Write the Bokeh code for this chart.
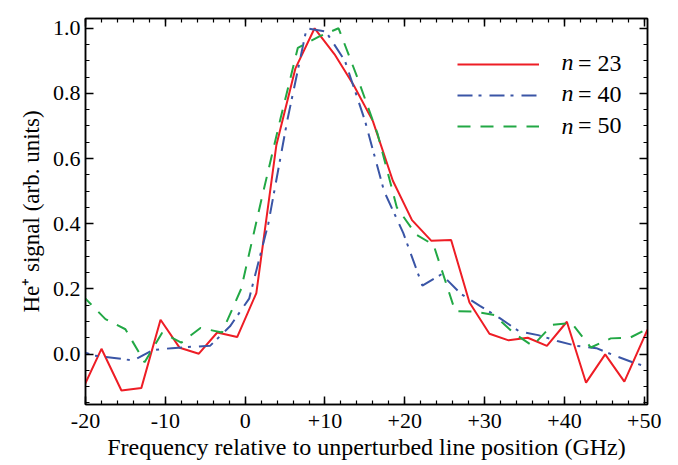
from bokeh.plotting import figure
from bokeh.models import FixedTicker, LinearAxis, Range1d, Legend, LegendItem, Label, CustomJSTickFormatter
from bokeh.embed import file_html
from bokeh.resources import INLINE

# ---- data ----
x_n23 = [-20.4, -18.0, -15.5, -13.0, -10.6, -8.2, -5.8, -3.5, -1.0, 1.4, 3.9, 6.3, 8.7, 11.2, 13.6,
         16.0, 18.5, 20.9, 23.3, 25.8, 28.1, 30.6, 33.0, 35.4, 37.8, 40.3, 42.7, 45.1, 47.5, 50.4]
y_n23 = [-0.11, 0.016, -0.112, -0.104, 0.105, 0.019, 0.001, 0.066, 0.052, 0.187, 0.64, 0.877, 1.0, 0.92, 0.825,
         0.715, 0.532, 0.411, 0.348, 0.35, 0.158, 0.062, 0.042, 0.05, 0.025, 0.099, -0.088, -0.001, -0.085, 0.075]

x_n40 = [-21.3, -18.9, -16.4, -14.0, -11.6, -9.2, -6.8, -4.4, -1.9, 0.5, 2.9, 5.3, 7.7, 10.1, 12.5, 15.0,
         17.4, 19.8, 22.2, 24.6, 27.0, 29.4, 31.9, 34.3, 36.7, 39.1, 41.5, 44.0, 46.4, 48.8, 51.2]
y_n40 = [0.015, -0.005, -0.012, -0.02, 0.012, 0.018, 0.022, 0.025, 0.085, 0.17, 0.4, 0.72, 1.0, 0.99, 0.9, 0.717,
         0.5, 0.372, 0.21, 0.245, 0.185, 0.148, 0.11, 0.07, 0.058, 0.04, 0.025, 0.018, -0.006, -0.028, -0.045]

x_n50 = [-20.4, -17.5, -15.0, -12.6, -10.4, -8.0, -5.6, -2.9, -0.5, 2.0, 4.4, 6.6, 9.3, 11.7, 14.1,
         16.6, 19.0, 21.4, 23.6, 26.3, 28.7, 31.2, 33.6, 36.0, 38.5, 40.9, 43.3, 45.8, 48.2, 50.6]
y_n50 = [0.18, 0.107, 0.076, -0.025, 0.065, 0.035, 0.08, 0.066, 0.2, 0.47, 0.72, 0.94, 0.975, 1.0, 0.846,
         0.675, 0.45, 0.367, 0.335, 0.132, 0.13, 0.12, 0.065, 0.025, 0.09, 0.095, 0.02, 0.048, 0.05, 0.08]

series_names = ["n", "n", "n"]
series_values = ["= 23", "= 40", "= 50"]

x_major = [-20, -10, 0, 10, 20, 30, 40, 50]
x_labels = ["-20", "-10", "0", "+10", "+20", "+30", "+40", "+50"]
y_major = [0.0, 0.2, 0.4, 0.6, 0.8, 1.0]
y_labels = ["0.0", "0.2", "0.4", "0.6", "0.8", "1.0"]

FONT = "Liberation Serif"
RED = "#ee1d25"
BLUE = "#3a55a6"
GREEN = "#22a845"

p = figure(frame_width=562, frame_height=386,
           min_border_left=85, min_border_right=22, min_border_top=18, min_border_bottom=55,
           x_range=Range1d(-20, 50.4), y_range=Range1d(-0.155, 1.03),
           output_backend="svg", toolbar_location=None)
p.grid.visible = False
p.outline_line_color = "black"
p.outline_line_width = 1.5
p.background_fill_color = "white"
p.border_fill_color = "white"

r1 = p.line(x_n23, y_n23, line_color=RED, line_width=2)
r2 = p.line(x_n40, y_n40, line_color=BLUE, line_width=2, line_dash="15 6 3 8")
r3 = p.line(x_n50, y_n50, line_color=GREEN, line_width=2, line_dash="13 10")

x_minor = [v for v in range(-20, 51, 2)]
y_minor = [round(-0.15 + 0.05 * i, 2) for i in range(24)]

def style_axis(ax, major, minor, labels=None):
    ax.ticker = FixedTicker(ticks=major, minor_ticks=minor)
    ax.major_tick_in = 8
    ax.major_tick_out = 0
    ax.minor_tick_in = 4
    ax.minor_tick_out = 0
    ax.axis_line_color = "black"
    ax.axis_line_width = 1.5
    ax.major_tick_line_width = 1.5
    ax.minor_tick_line_width = 1.2
    ax.major_label_text_font = FONT
    ax.major_label_text_color = "black"
    ax.axis_label_text_font = FONT
    ax.axis_label_text_font_style = "normal"
    ax.axis_label_text_color = "black"
    if labels is not None:
        ax.major_label_overrides = {m: l for m, l in zip(major, labels)}

xa = p.xaxis[0]
style_axis(xa, x_major, x_minor, x_labels)
xa.major_label_text_font_size = "22px"
xa.major_label_standoff = 9
xa.axis_label = "Frequency relative to unperturbed line position (GHz)"
xa.axis_label_text_font_size = "24px"
xa.axis_label_standoff = 3

ya = p.yaxis[0]
style_axis(ya, y_major, y_minor, y_labels)
ya.major_label_text_font_size = "22px"
ya.major_label_standoff = 5
ya.axis_label = "He\u207a signal (arb. units)"
ya.axis_label_text_font_size = "23px"
ya.axis_label_standoff = 6

blank = CustomJSTickFormatter(code="return ''")
top = LinearAxis(formatter=blank)
style_axis(top, x_major, x_minor)
top.major_label_text_font_size = "1px"
top.major_label_standoff = 0
p.add_layout(top, "above")

right = LinearAxis(formatter=blank)
style_axis(right, y_major, y_minor)
right.major_label_text_font_size = "1px"
right.major_label_standoff = 0
p.add_layout(right, "right")

legend = Legend(items=[LegendItem(label=series_values[0], renderers=[r1]),
                       LegendItem(label=series_values[1], renderers=[r2]),
                       LegendItem(label=series_values[2], renderers=[r3])],
                location=(372, 265), glyph_width=82, glyph_height=20, label_height=20,
                label_standoff=39, spacing=4, padding=0, margin=0,
                border_line_color=None, background_fill_alpha=0,
                label_text_font=FONT, label_text_font_size="24px", label_text_color="black")
p.add_layout(legend)

for i, yy in enumerate([343, 312, 279]):
    p.add_layout(Label(x=476, y=yy, x_units="screen", y_units="screen", text=series_names[i],
                       text_font=FONT, text_font_style="italic", text_font_size="24px",
                       text_baseline="middle", text_color="black"))

open("out.html", "w").write(file_html(p, INLINE))
